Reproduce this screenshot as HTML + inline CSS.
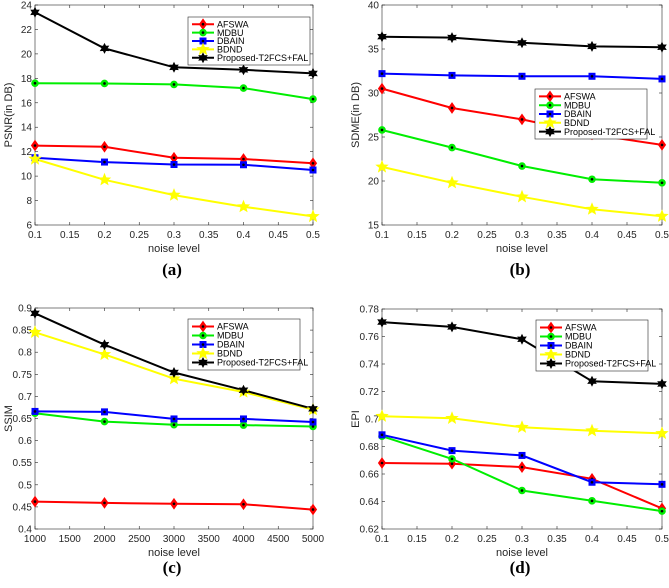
<!DOCTYPE html>
<html><head><meta charset="utf-8"><style>
body{margin:0;background:#fff;}
svg{display:block;font-family:"Liberation Sans",sans-serif;}
</style></head><body>
<svg id="svg" width="669" height="588" viewBox="0 0 669 588"></svg>
<script>
const seriesNames=["AFSWA","MDBU","DBAIN","BDND","Proposed-T2FCS+FAL"];
const xNoise=[0.1,0.2,0.3,0.4,0.5];
const xSsim=[1000,2000,3000,4000,5000];
const psnrAFSWA=[12.5,12.4,11.5,11.4,11.05];
const psnrMDBU=[17.6,17.58,17.5,17.2,16.3];
const psnrDBAIN=[11.5,11.15,10.95,10.93,10.5];
const psnrBDND=[11.4,9.7,8.45,7.5,6.7];
const psnrProp=[23.4,20.45,18.9,18.7,18.4];
const sdmeAFSWA=[30.5,28.3,27.0,25.3,24.1];
const sdmeMDBU=[25.8,23.8,21.7,20.2,19.8];
const sdmeDBAIN=[32.2,32.0,31.9,31.9,31.6];
const sdmeBDND=[21.6,19.8,18.2,16.8,16.0];
const sdmeProp=[36.4,36.3,35.7,35.3,35.2];
const ssimAFSWA=[0.462,0.459,0.457,0.456,0.444];
const ssimMDBU=[0.662,0.643,0.636,0.635,0.632];
const ssimDBAIN=[0.666,0.665,0.649,0.649,0.642];
const ssimBDND=[0.845,0.795,0.740,0.710,0.670];
const ssimProp=[0.888,0.817,0.754,0.714,0.672];
const epiAFSWA=[0.668,0.6675,0.665,0.6565,0.635];
const epiMDBU=[0.6875,0.671,0.648,0.6405,0.633];
const epiDBAIN=[0.6885,0.677,0.6735,0.654,0.6525];
const epiBDND=[0.702,0.7005,0.694,0.6915,0.6895];
const epiProp=[0.7705,0.767,0.758,0.7275,0.7255];
const ticksNoise=[0.1,0.15,0.2,0.25,0.3,0.35,0.4,0.45,0.5];
const ticksSsimX=[1000,1500,2000,2500,3000,3500,4000,4500,5000];
const ticksPsnr=[6,8,10,12,14,16,18,20,22,24];
const ticksSdme=[15,20,25,30,35,40];
const ticksSsim=[0.4,0.45,0.5,0.55,0.6,0.65,0.7,0.75,0.8,0.85,0.9];
const ticksEpi=[0.62,0.64,0.66,0.68,0.7,0.72,0.74,0.76,0.78];

const NS="http://www.w3.org/2000/svg";
const svg=document.getElementById('svg');
const colors=["#ff0000","#00ee00","#0000ff","#ffff00","#000000"];
function mk(tag,attrs,parent){const e=document.createElementNS(NS,tag);for(const k in attrs)e.setAttribute(k,attrs[k]);(parent||svg).appendChild(e);return e;}
function starPts(cx,cy,n,ro,ri){let p=[];for(let i=0;i<2*n;i++){const a=-Math.PI/2+i*Math.PI/n;const r=i%2?ri:ro;p.push((cx+r*Math.cos(a)).toFixed(1)+","+(cy+r*Math.sin(a)).toFixed(1));}return p.join(" ");}
function marker(g,k,x,y){
  const c=colors[k];let m;
  if(k==0){m=mk('polygon',{points:`${x},${y-5} ${x+3.5},${y} ${x},${y+5} ${x-3.5},${y}`,fill:c,stroke:c},g);}
  else if(k==1){m=mk('circle',{cx:x,cy:y,r:3.8,fill:c},g);}
  else if(k==2){m=mk('rect',{x:x-3.5,y:y-3.5,width:7,height:7,fill:c},g);}
  else if(k==3){m=mk('polygon',{points:starPts(x,y,5,7,3),fill:c},g);}
  else {m=mk('polygon',{points:starPts(x,y,6,5.5,3),fill:c},g);}
  
  
  if(k!=3){const d=mk('circle',{cx:x,cy:y,r:1.3,fill:'#000'},g);
  
  }
}
function panel(id,L,R,T,B,xs,xt,yt,ylab,series,leg,lab,labY){
  const g=mk('g',{});
  
  
  const x0=xt[0],x1=xt[xt.length-1],y0=yt[0],y1=yt[yt.length-1];
  const sx=v=>L+(v-x0)/(x1-x0)*(R-L), sy=v=>B-(v-y0)/(y1-y0)*(B-T);
  const box=mk('rect',{x:L,y:T,width:R-L,height:B-T,fill:'#fff',stroke:'#262626','stroke-width':0.6},g);
  
  
  xt.forEach(v=>{const x=sx(v);mk('line',{x1:x,x2:x,y1:B,y2:B-3,stroke:'#262626','stroke-width':0.6},g);mk('line',{x1:x,x2:x,y1:T,y2:T+3,stroke:'#262626','stroke-width':0.6},g);
    const t=mk('text',{x:x,y:B+13,'font-size':10,'text-anchor':'middle',fill:'#262626'},g);t.textContent=String(v);
    
    });
  yt.forEach(v=>{const y=sy(v);mk('line',{x1:L,x2:L+3,y1:y,y2:y,stroke:'#262626','stroke-width':0.6},g);mk('line',{x1:R,x2:R-3,y1:y,y2:y,stroke:'#262626','stroke-width':0.6},g);
    const t=mk('text',{x:L-3,y:y+3.5,'font-size':10,'text-anchor':'end',fill:'#262626'},g);t.textContent=String(v);
    
    });
  const xl=mk('text',{x:(L+R)/2,y:B+27,'font-size':11,'text-anchor':'middle',fill:'#262626'},g);xl.textContent='noise level';
  
  
  const yx=L-23,yy=(T+B)/2;
  const yl=mk('text',{x:yx,y:yy,'font-size':11,'text-anchor':'middle',fill:'#262626',transform:`rotate(-90 ${yx} ${yy})`},g);yl.textContent=ylab;
  
  
  series.forEach((s,k)=>{
    const pts=s.map((v,i)=>sx(xs[i]).toFixed(1)+","+sy(v).toFixed(1)).join(" ");
    const pl=mk('polyline',{points:pts,fill:'none',stroke:colors[k],'stroke-width':2},g);
    
    
  });
  series.forEach((s,k)=>s.forEach((v,i)=>marker(g,k,sx(xs[i]),sy(v))));
  const [lx,ly,lw,lh]=leg;
  const lg=mk('g',{},g);
  
  
  mk('rect',{x:lx,y:ly,width:lw,height:lh,fill:'#fff',stroke:'#262626','stroke-width':0.6},lg);
  const step=(lh-6)/5;
  seriesNames.forEach((n,k)=>{const y=ly+3+step*(k+0.5);
    mk('line',{x1:lx+4,x2:lx+26,y1:y,y2:y,stroke:colors[k],'stroke-width':2},lg);
    marker(lg,k,lx+15,y);
    const t=mk('text',{x:lx+29,y:y+3.2,'font-size':9,fill:'#000'},lg);t.textContent=n;
    
    });
  const c=mk('text',{x:(L+R)/2-2,y:labY,'font-size':17,'font-weight':'bold','text-anchor':'middle','font-family':'Liberation Serif, serif'},g);c.textContent=lab;
  
  
}
panel('psnr',35,313,5,225,xNoise,ticksNoise,ticksPsnr,'PSNR(in DB)',[psnrAFSWA,psnrMDBU,psnrDBAIN,psnrBDND,psnrProp],[188,17,122,48],'(a)',275);
panel('sdme',382,662,5,225,xNoise,ticksNoise,ticksSdme,'SDME(in DB)',[sdmeAFSWA,sdmeMDBU,sdmeDBAIN,sdmeBDND,sdmeProp],[535,89,112,50],'(b)',275);
panel('ssim',35,313,308,529,xSsim,ticksSsimX,ticksSsim,'SSIM',[ssimAFSWA,ssimMDBU,ssimDBAIN,ssimBDND,ssimProp],[188,319,112,51],'(c)',573);
panel('epi',382,662,309,529,xNoise,ticksNoise,ticksEpi,'EPI',[epiAFSWA,epiMDBU,epiDBAIN,epiBDND,epiProp],[536,320,112,51],'(d)',573);
</script>
</body></html>
